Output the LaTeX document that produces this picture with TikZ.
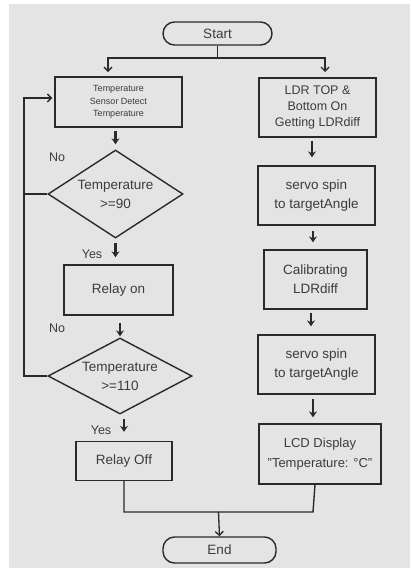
\documentclass[tikz,border=0pt]{standalone}
\usepackage{fontspec}
\setmainfont{Liberation Sans}
\usetikzlibrary{shapes.geometric,arrows.meta}
\definecolor{bgc}{HTML}{E4E4E4}
\definecolor{lnc}{HTML}{2A2A2A}
\definecolor{txc}{HTML}{3C3C3C}
\begin{document}
\begin{tikzpicture}[x=1pt,y=-1pt,
  every node/.style={text=txc},
  txt/.style={font=\fontsize{13.5}{19}\selectfont},
  box/.style={draw=lnc, line width=1.4pt, inner sep=0pt, align=center, txt},
  term/.style={box, rounded corners=11.5pt},
  dia/.style={draw=lnc, line width=1.4pt, shape=diamond, inner sep=0pt, align=center, txt},
  lbl/.style={font=\fontsize{12.5}{14}\selectfont},
  lnk/.style={draw=lnc, line width=1.4pt},
  thk/.style={draw=lnc, line width=2.2pt, -{Stealth[length=6pt,width=8pt]}},
  barb/.style={draw=lnc, line width=1.3pt, -{Straight Barb[length=4pt,width=8pt]}}]
\useasboundingbox (0,0) rectangle (410,568);
\fill[bgc] (9,4) rectangle (410,568);

% terminals
\node[term, minimum width=109pt, minimum height=23pt] (start) at (217.5,33.5) {Start};
\node[term, minimum width=113pt, minimum height=26pt] (end) at (219.5,550) {End};

% left column
\node[box, minimum width=127pt, minimum height=50pt, font=\fontsize{9}{12.5}\selectfont] (temp) at (118.5,102) {Temperature\\Sensor Detect\\Temperature};
\node[dia, minimum width=135pt, minimum height=88pt, shape aspect=1.53] (d1) at (115.5,194) {Temperature\\>=90};
\node[box, minimum width=109pt, minimum height=50pt] (ron) at (118.5,290) {Relay on};
\node[dia, minimum width=144pt, minimum height=76pt, shape aspect=1.89] (d2) at (120,376) {Temperature\\>=110};
\node[box, minimum width=96pt, minimum height=39pt] (roff) at (124,461) {Relay Off};

% right column
\node[box, minimum width=117pt, minimum height=59pt, font=\fontsize{12.5}{16}\selectfont] (ldr) at (317.5,107.5) {LDR TOP \&\\Bottom On\\Getting LDRdiff};
\node[box, minimum width=117pt, minimum height=59pt] (s1) at (316.5,195.5) {servo spin\\to targetAngle};
\node[box, minimum width=103pt, minimum height=59pt] (cal) at (315.5,279.5) {Calibrating\\LDRdiff};
\node[box, minimum width=117pt, minimum height=59pt] (s2) at (316.5,364.5) {servo spin\\to targetAngle};
\node[box, minimum width=122pt, minimum height=60pt, font=\fontsize{13}{20}\selectfont] (lcd) at (320,454) {LCD Display\\"Temperature: °C"};

% labels
\node[lbl] (no1) at (57,157) {No};
\node[lbl] (yes1) at (92,254) {Yes};
\node[lbl] (no2) at (57,328) {No};
\node[lbl] (yes2) at (101,430) {Yes};

% start split
\coordinate (split) at (217.5,58);
\coordinate (tl) at (108,72);
\coordinate (tr) at (325,72);
\draw[lnk] (start.south) -- (split);
\draw[barb] (split) -| (tl);
\draw[barb] (split) -| (tr);

% left flow
\draw[thk, shorten <=3pt, shorten >=5pt] (temp.south -| d1.north) -- (d1.north);
\draw[thk, shorten <=4pt, shorten >=7pt] (d1.south) -- (d1.south |- ron.north);
\draw[thk, shorten <=7pt, shorten >=1pt] (ron.south -| d2.north) -- (d2.north);
\draw[thk, shorten <=4pt, shorten >=9pt] (d2.south -| roff.north) -- (roff.north);

% feedback loops
\coordinate (fb1) at (24,194);
\coordinate (fbt) at (24,98);
\draw[barb] (d1.west) -- (fb1) -- (fbt) -- ([xshift=-2pt]temp.west |- fbt);
\draw[lnk] (d2.west) -- (d2.west -| fb1) -- (fb1);

% right flow
\draw[thk, shorten <=3pt, shorten >=8pt] ([xshift=-5.5pt]ldr.south) -- ([xshift=-5.5pt]ldr.south |- s1.north);
\draw[thk, shorten <=5pt, shorten >=7pt] ([xshift=-3.5pt]s1.south) -- ([xshift=-3.5pt]s1.south |- cal.north);
\draw[thk, shorten <=3pt, shorten >=8pt] ([xshift=-4.5pt]cal.south) -- ([xshift=-4.5pt]cal.south |- s2.north);
\draw[thk, shorten <=4pt, shorten >=6pt] ([xshift=-3.5pt]s2.south) -- ([xshift=-3.5pt]s2.south |- lcd.north);

% merge to end
\coordinate (mj) at (218.5,512);
\coordinate (mr) at (313,512);
\draw[lnk] (roff.south) |- (mr) -- ([xshift=-5pt]lcd.south);
\draw[barb] (mj) -- (end.north);
\end{tikzpicture}
\end{document}
